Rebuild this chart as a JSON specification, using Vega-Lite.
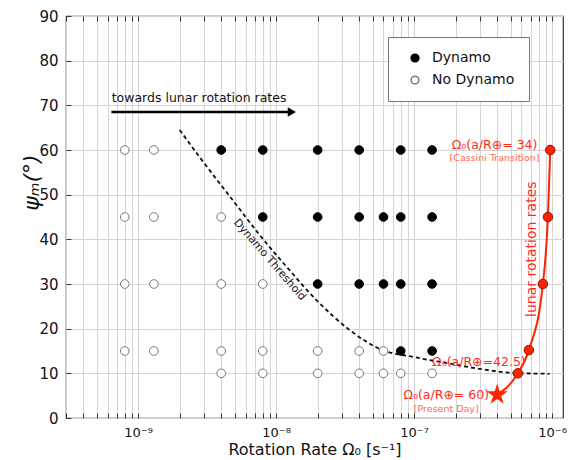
{
  "$schema": "https://vega.github.io/schema/vega-lite/v6.json",
  "width": 497,
  "height": 402,
  "autosize": {"type": "none"},
  "padding": {"left": 66, "top": 16, "right": 5, "bottom": 42},
  "background": "white",
  "config": {
    "font": "DejaVu Sans",
    "view": {"stroke": "#333", "strokeWidth": 1.2},
    "axis": {"domain": false, "gridColor": "#d4d4d4", "gridWidth": 1, "tickColor": "#333", "labelColor": "#111", "titleColor": "#111"}
  },
  "datasets": {
    "cases": [
      {"omega": 8e-10, "psi": 60, "status": "No Dynamo"},
      {"omega": 8e-10, "psi": 45, "status": "No Dynamo"},
      {"omega": 8e-10, "psi": 30, "status": "No Dynamo"},
      {"omega": 8e-10, "psi": 15, "status": "No Dynamo"},
      {"omega": 1.3e-9, "psi": 60, "status": "No Dynamo"},
      {"omega": 1.3e-9, "psi": 45, "status": "No Dynamo"},
      {"omega": 1.3e-9, "psi": 30, "status": "No Dynamo"},
      {"omega": 1.3e-9, "psi": 15, "status": "No Dynamo"},
      {"omega": 4e-9, "psi": 60, "status": "Dynamo"},
      {"omega": 4e-9, "psi": 45, "status": "No Dynamo"},
      {"omega": 4e-9, "psi": 30, "status": "No Dynamo"},
      {"omega": 4e-9, "psi": 15, "status": "No Dynamo"},
      {"omega": 4e-9, "psi": 10, "status": "No Dynamo"},
      {"omega": 8e-9, "psi": 60, "status": "Dynamo"},
      {"omega": 8e-9, "psi": 45, "status": "Dynamo"},
      {"omega": 8e-9, "psi": 30, "status": "No Dynamo"},
      {"omega": 8e-9, "psi": 15, "status": "No Dynamo"},
      {"omega": 8e-9, "psi": 10, "status": "No Dynamo"},
      {"omega": 2e-8, "psi": 60, "status": "Dynamo"},
      {"omega": 2e-8, "psi": 45, "status": "Dynamo"},
      {"omega": 2e-8, "psi": 30, "status": "Dynamo"},
      {"omega": 2e-8, "psi": 15, "status": "No Dynamo"},
      {"omega": 2e-8, "psi": 10, "status": "No Dynamo"},
      {"omega": 4e-8, "psi": 60, "status": "Dynamo"},
      {"omega": 4e-8, "psi": 45, "status": "Dynamo"},
      {"omega": 4e-8, "psi": 30, "status": "Dynamo"},
      {"omega": 4e-8, "psi": 15, "status": "No Dynamo"},
      {"omega": 4e-8, "psi": 10, "status": "No Dynamo"},
      {"omega": 6e-8, "psi": 45, "status": "Dynamo"},
      {"omega": 6e-8, "psi": 30, "status": "Dynamo"},
      {"omega": 6e-8, "psi": 15, "status": "No Dynamo"},
      {"omega": 6e-8, "psi": 10, "status": "No Dynamo"},
      {"omega": 8e-8, "psi": 60, "status": "Dynamo"},
      {"omega": 8e-8, "psi": 45, "status": "Dynamo"},
      {"omega": 8e-8, "psi": 30, "status": "Dynamo"},
      {"omega": 8e-8, "psi": 15, "status": "Dynamo"},
      {"omega": 8e-8, "psi": 10, "status": "No Dynamo"},
      {"omega": 1.35e-7, "psi": 60, "status": "Dynamo"},
      {"omega": 1.35e-7, "psi": 45, "status": "Dynamo"},
      {"omega": 1.35e-7, "psi": 30, "status": "Dynamo"},
      {"omega": 1.35e-7, "psi": 15, "status": "Dynamo"},
      {"omega": 1.35e-7, "psi": 10, "status": "No Dynamo"}
    ],
    "threshold": [
      {"omega": 2.0e-9, "psi": 64.5},
      {"omega": 2.79e-9, "psi": 58.4},
      {"omega": 4.84e-9, "psi": 48.8},
      {"omega": 7.59e-9, "psi": 41.0},
      {"omega": 1.25e-8, "psi": 33.1},
      {"omega": 1.96e-8, "psi": 26.4},
      {"omega": 3.41e-8, "psi": 19.7},
      {"omega": 5.91e-8, "psi": 15.2},
      {"omega": 9.75e-8, "psi": 13.7},
      {"omega": 1.72e-7, "psi": 12.3},
      {"omega": 2.98e-7, "psi": 11.0},
      {"omega": 5.17e-7, "psi": 10.1},
      {"omega": 9.6e-7, "psi": 9.9}
    ],
    "lunar": [
      {"omega": 4.0e-7, "psi": 5.2, "kind": "star"},
      {"omega": 5.65e-7, "psi": 10, "kind": "point"},
      {"omega": 6.79e-7, "psi": 15.2, "kind": "point"},
      {"omega": 8.58e-7, "psi": 30, "kind": "point"},
      {"omega": 9.33e-7, "psi": 45, "kind": "point"},
      {"omega": 9.7e-7, "psi": 60, "kind": "point"}
    ],
    "arrow": [
      {"omega": 6.4e-10, "psi": 68.5},
      {"omega": 1.22e-8, "psi": 68.5}
    ],
    "arrowhead": [
      {"omega": 1.3e-8, "psi": 68.5}
    ],
    "redlabels": [
      {"omega": 3.83e-7, "psi": 61.1, "text": "Ω₀(a/R⊕= 34)", "size": 12.5, "color": "#ff2a1a"},
      {"omega": 3.83e-7, "psi": 58.2, "text": "[Cassini Transition]", "size": 9.5, "color": "#ff6a5a"},
      {"omega": 2.95e-7, "psi": 12.5, "text": "Ω₀(a/R⊕=42.5)", "size": 12.5, "color": "#ff2a1a"},
      {"omega": 1.71e-7, "psi": 5.15, "text": "Ω₀(a/R⊕= 60)", "size": 12.5, "color": "#ff2a1a"},
      {"omega": 1.71e-7, "psi": 2.0, "text": "[Present Day]", "size": 9.5, "color": "#ff6a5a"}
    ]
  },
  "resolve": {"axis": {"x": "independent"}},
  "layer": [
    {
      "data": {"name": "threshold"},
      "mark": {"type": "line", "color": "#111", "strokeWidth": 1.8, "strokeDash": [4, 3], "interpolate": "monotone"},
      "encoding": {
        "x": {"field": "omega", "type": "quantitative", "scale": {"type": "log", "domain": [3e-10, 1.2e-6], "nice": false},
          "axis": {"orient": "bottom", "title": "Rotation Rate  Ω₀ [s⁻¹]", "titleFontSize": 16, "titleFontWeight": "normal", "titleY": 31, "titleBaseline": "middle",
            "values": [3e-10, 4e-10, 5e-10, 6e-10, 7e-10, 8e-10, 9e-10, 1e-9, 2e-9, 3e-9, 4e-9, 5e-9, 6e-9, 7e-9, 8e-9, 9e-9, 1e-8, 2e-8, 3e-8, 4e-8, 5e-8, 6e-8, 7e-8, 8e-8, 9e-8, 1e-7, 2e-7, 3e-7, 4e-7, 5e-7, 6e-7, 7e-7, 8e-7, 9e-7, 1e-6],
            "labelExpr": "datum.value == 1e-9 ? '10⁻⁹' : datum.value == 1e-8 ? '10⁻⁸' : datum.value == 1e-7 ? '10⁻⁷' : datum.value == 1e-6 ? '10⁻⁶' : ''",
            "labelFontSize": 13, "labelPadding": 13, "tickSize": -5, "grid": true, "labelOverlap": false}},
        "y": {"field": "psi", "type": "quantitative", "scale": {"domain": [0, 90], "nice": false},
          "axis": {"values": [0, 10, 20, 30, 40, 50, 60, 70, 80, 90], "title": "ψₘ(°)", "titleFontSize": 22, "titleFontStyle": "italic", "titleFontWeight": "normal", "titleX": -35, "titleY": 166, "titleAngle": -90, "titleBaseline": "middle", "titleAlign": "center",
            "labelFontSize": 15, "labelPadding": 13, "tickSize": -5, "grid": true}}
      }
    },
    {
      "data": {"name": "arrow"},
      "mark": {"type": "line", "color": "#000", "strokeWidth": 2.5},
      "encoding": {
        "x": {"field": "omega", "type": "quantitative",
          "axis": {"orient": "top", "labels": false, "title": null, "grid": false, "tickSize": -5, "domain": false,
            "values": [3e-10, 4e-10, 5e-10, 6e-10, 7e-10, 8e-10, 9e-10, 1e-9, 2e-9, 3e-9, 4e-9, 5e-9, 6e-9, 7e-9, 8e-9, 9e-9, 1e-8, 2e-8, 3e-8, 4e-8, 5e-8, 6e-8, 7e-8, 8e-8, 9e-8, 1e-7, 2e-7, 3e-7, 4e-7, 5e-7, 6e-7, 7e-7, 8e-7, 9e-7, 1e-6]}},
        "y": {"field": "psi", "type": "quantitative"}
      }
    },
    {
      "data": {"name": "arrowhead"},
      "mark": {"type": "point", "shape": "triangle-right", "filled": true, "color": "#000", "size": 90, "opacity": 1},
      "encoding": {
        "x": {"field": "omega", "type": "quantitative", "axis": null},
        "y": {"field": "psi", "type": "quantitative"}
      }
    },
    {
      "data": {"name": "cases"},
      "mark": {"type": "point", "shape": "circle", "size": 75, "strokeWidth": 1, "opacity": 1, "filled": false},
      "encoding": {
        "x": {"field": "omega", "type": "quantitative", "axis": null},
        "y": {"field": "psi", "type": "quantitative"},
        "fill": {"field": "status", "type": "nominal", "scale": {"domain": ["Dynamo", "No Dynamo"], "range": ["#000000", "#ffffff"]},
          "legend": {"title": null, "orient": "none", "legendX": 322, "legendY": 21, "strokeColor": "#777", "fillColor": "#fff", "padding": 14, "labelFontSize": 14, "symbolSize": 60, "rowPadding": 8, "labelOffset": 10, "symbolOffset": 6, "labelColor": "#111"}},
        "stroke": {"field": "status", "type": "nominal", "scale": {"domain": ["Dynamo", "No Dynamo"], "range": ["#000000", "#777777"]}, "legend": {"title": null, "orient": "none", "legendX": 322, "legendY": 21, "strokeColor": "#777", "fillColor": "#fff", "padding": 14, "labelFontSize": 14, "symbolSize": 60, "rowPadding": 8, "labelOffset": 10, "symbolOffset": 6, "labelColor": "#111"}}
      }
    },
    {
      "data": {"name": "lunar"},
      "mark": {"type": "line", "color": "#ff2200", "strokeWidth": 2, "interpolate": "monotone"},
      "encoding": {
        "x": {"field": "omega", "type": "quantitative", "axis": null},
        "y": {"field": "psi", "type": "quantitative"},
        "order": {"field": "omega", "type": "quantitative"}
      }
    },
    {
      "data": {"name": "lunar"},
      "transform": [{"filter": "datum.kind == 'point'"}],
      "mark": {"type": "point", "shape": "circle", "filled": true, "size": 90, "fill": "#ff2200", "stroke": "#8b1500", "strokeWidth": 1, "opacity": 1},
      "encoding": {
        "x": {"field": "omega", "type": "quantitative", "axis": null},
        "y": {"field": "psi", "type": "quantitative"}
      }
    },
    {
      "data": {"name": "lunar"},
      "transform": [{"filter": "datum.kind == 'star'"}],
      "mark": {"type": "point", "shape": "M0,-1L0.2245,-0.309L0.951,-0.309L0.363,0.118L0.588,0.809L0,0.382L-0.588,0.809L-0.363,0.118L-0.951,-0.309L-0.2245,-0.309Z", "filled": true, "size": 500, "fill": "#ff2200", "opacity": 1},
      "encoding": {
        "x": {"field": "omega", "type": "quantitative", "axis": null},
        "y": {"field": "psi", "type": "quantitative"}
      }
    },
    {
      "data": {"name": "redlabels"},
      "mark": {"type": "text", "align": "center", "baseline": "middle"},
      "encoding": {
        "x": {"field": "omega", "type": "quantitative", "axis": null},
        "y": {"field": "psi", "type": "quantitative"},
        "text": {"field": "text"},
        "size": {"field": "size", "type": "quantitative", "scale": null},
        "color": {"field": "color", "type": "nominal", "scale": null}
      }
    },
    {
      "data": {"values": [{"omega": 7.1e-7, "psi": 37.8, "text": "lunar rotation rates"}]},
      "mark": {"type": "text", "angle": 270, "align": "center", "baseline": "middle", "fontSize": 14, "color": "#ff2a1a"},
      "encoding": {
        "x": {"field": "omega", "type": "quantitative", "axis": null},
        "y": {"field": "psi", "type": "quantitative"},
        "text": {"field": "text"}
      }
    },
    {
      "data": {"values": [{"omega": 8.97e-9, "psi": 35.4, "text": "Dynamo Threshold"}]},
      "mark": {"type": "text", "angle": 49, "align": "center", "baseline": "middle", "fontSize": 11, "color": "#222"},
      "encoding": {
        "x": {"field": "omega", "type": "quantitative", "axis": null},
        "y": {"field": "psi", "type": "quantitative"},
        "text": {"field": "text"}
      }
    },
    {
      "data": {"values": [{"omega": 6.43e-10, "psi": 71.6, "text": "towards lunar rotation rates"}]},
      "mark": {"type": "text", "align": "left", "baseline": "middle", "fontSize": 12.5, "color": "#111"},
      "encoding": {
        "x": {"field": "omega", "type": "quantitative", "axis": null},
        "y": {"field": "psi", "type": "quantitative"},
        "text": {"field": "text"}
      }
    }
  ]
}
